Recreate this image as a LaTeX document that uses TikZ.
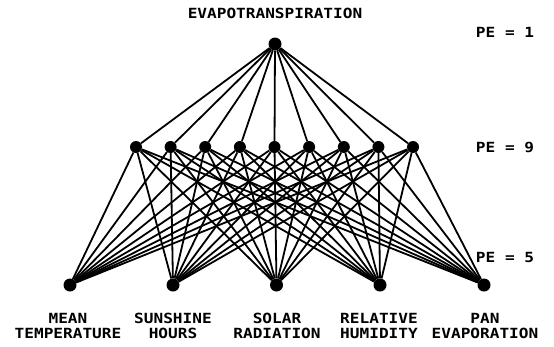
\documentclass[tikz,border=0pt]{standalone}
\usepackage{fontspec}
\newfontfamily\plotfont[FakeStretch=1.15]{DejaVu Sans Mono}
\begin{document}
\begin{tikzpicture}[x=1pt,y=-1pt,
  unit/.style={circle,fill=black,inner sep=0pt,minimum size=11pt},
  lab/.style={font=\plotfont\bfseries\fontsize{14}{15}\selectfont,align=center,inner sep=0pt},
  conn/.style={line width=1.8pt}]
\useasboundingbox (0,0) rectangle (554,346);
\node[unit,minimum size=13pt] (o) at (275,44) {};
\foreach \i/\x in {1/136,2/170.6,3/205.2,4/239.9,5/274.5,6/309.1,7/343.8,8/378.4,9/413}
  \node[unit,minimum size=12pt] (h\i) at (\x,147) {};
\foreach \j/\x in {1/70,2/173,3/276.5,4/380,5/484}
  \node[unit,minimum size=13pt] (b\j) at (\x,285) {};
\foreach \i in {1,...,9} {
  \draw[conn] (o) -- (h\i);
  \foreach \j in {1,...,5} \draw[conn] (h\i) -- (b\j);
}
\node[lab] (t) at (275,13) {EVAPOTRANSPIRATION};
\node[lab] (p1) at (505,32) {PE = 1};
\node[lab] (p9) at (505,147) {PE = 9};
\node[lab] (p5) at (505,257) {PE = 5};
\node[lab] (l1) at (68,326) {MEAN\\TEMPERATURE};
\node[lab] (l2) at (173,326) {SUNSHINE\\HOURS};
\node[lab] (l3) at (277,326) {SOLAR\\RADIATION};
\node[lab] (l4) at (379,326) {RELATIVE\\HUMIDITY};
\node[lab] (l5) at (485,326) {PAN\\EVAPORATION};
\end{tikzpicture}
\end{document}
